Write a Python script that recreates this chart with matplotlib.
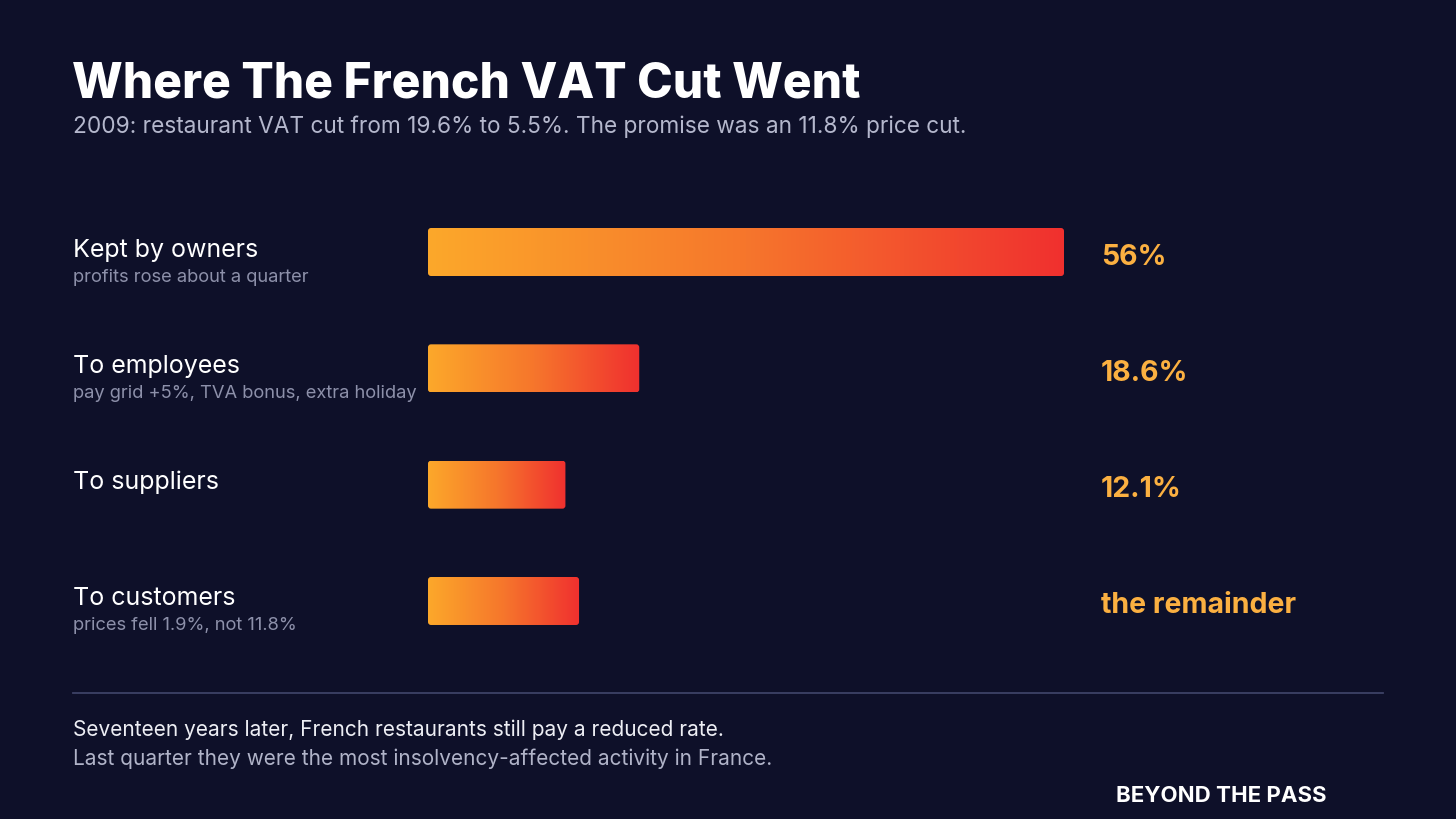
import numpy as np
import matplotlib
matplotlib.use("Agg")
import matplotlib.pyplot as plt
from matplotlib.colors import LinearSegmentedColormap
from matplotlib.patches import FancyBboxPatch
from matplotlib import transforms

# ---------------- data ----------------
categories = ["Kept by owners", "To employees", "To suppliers", "To customers"]
subtitles = ["profits rose about a quarter", "pay grid +5%, TVA bonus, extra holiday", "", "prices fell 1.9%, not 11.8%"]
shares = [56.0, 18.6, 12.1, 13.3]
value_labels = ["56%", "18.6%", "12.1%", "the remainder"]

title = "Where The French VAT Cut Went"
subtitle = "2009: restaurant VAT cut from 19.6% to 5.5%. The promise was an 11.8% price cut."
footer1 = "Seventeen years later, French restaurants still pay a reduced rate."
footer2 = "Last quarter they were the most insolvency-affected activity in France."
brand = "BEYOND THE PASS"

# ---------------- style ----------------
BG = "#0E1029"
FONT = ["Inter", "DejaVu Sans"]
W, H = 1456, 819
plt.rcParams["font.family"] = FONT

fig = plt.figure(figsize=(W / 100, H / 100), dpi=100, facecolor=BG)

def fx(px):
    return px / W

def fy(py):
    return 1 - py / H

# title block
fig.text(fx(72), fy(85), title, color="white", fontsize=34.5, fontweight="heavy", va="center", ha="left")
fig.text(fx(73), fy(127), subtitle, color="#B4B7CC", fontsize=16.3, va="center", ha="left")

# bar axes
row_px = 116.33
top_c, n = 252, len(categories)
ax_top = top_c - row_px / 2
ax_bot = top_c + (n - 1) * row_px + row_px / 2
x0, x56 = 428, 1064
ax = fig.add_axes([fx(x0), fy(ax_bot), (x56 - x0) / W, (ax_bot - ax_top) / H])
ax.set_facecolor("none")
ax.set_xlim(0, 56)
ax.set_ylim(n - 0.5, -0.5)
ax.axis("off")

cmap = LinearSegmentedColormap.from_list("grad", ["#FCA82A", "#F6762C", "#F0302F"])
grad = np.linspace(0, 1, 256).reshape(1, -1)
bar_h = 48 / row_px
px_per_x = (x56 - x0) / 56
px_per_y = row_px
radius_px = 3
for i, v in enumerate(shares):
    patch = FancyBboxPatch((0, i - bar_h / 2), v, bar_h,
                           boxstyle=f"round,pad=0,rounding_size={radius_px / px_per_x}",
                           mutation_aspect=px_per_x / px_per_y,
                           facecolor="none", edgecolor="none", transform=ax.transData)
    ax.add_patch(patch)
    im = ax.imshow(grad, cmap=cmap, aspect="auto", extent=[0, v, i + bar_h / 2, i - bar_h / 2],
                   interpolation="bicubic", zorder=2)
    im.set_clip_path(patch)

ax.set_xlim(0, 56)
ax.set_ylim(n - 0.5, -0.5)

blend = transforms.blended_transform_factory(fig.transFigure, ax.transData)
for i, (cat, sub, lab) in enumerate(zip(categories, subtitles, value_labels)):
    fig.text(fx(73), i - 2 / row_px, cat, transform=blend, color="white", fontsize=18,
             va="center", ha="left")
    if sub:
        fig.text(fx(73), i + 25 / row_px, sub, transform=blend, color="#8D90AA", fontsize=13.2,
                 va="center", ha="left")
    fig.text(fx(1101), i + 5 / row_px, lab, transform=blend, color="#FBB041", fontsize=20.5,
             fontweight="bold", va="center", ha="left")

# divider
fig.add_artist(plt.Line2D([fx(73), fx(1383)], [fy(693), fy(693)], color="#3D4266", lw=1.3,
                          transform=fig.transFigure))

fig.text(fx(73), fy(730), footer1, color="#EDEEF4", fontsize=15, va="center", ha="left")
fig.text(fx(73), fy(759), footer2, color="#B0B3C8", fontsize=15, va="center", ha="left")
fig.text(fx(1221), fy(796), brand, color="white", fontsize=16, fontweight="bold", va="center", ha="center")

fig.savefig("out.png", dpi=100, facecolor=BG)
